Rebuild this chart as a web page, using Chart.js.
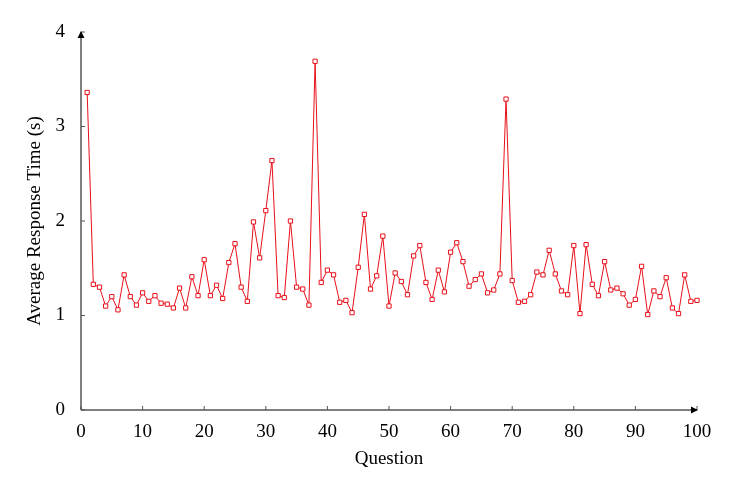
<!DOCTYPE html>
<html>
<head>
<meta charset="utf-8">
<script src="https://cdn.jsdelivr.net/npm/chart.js@4/dist/chart.umd.min.js"></script>
<style>
  body { margin: 0; background: #fff; }
  #wrap { width: 737px; height: 493px; }
</style>
</head>
<body>
<div id="wrap"><canvas id="c" width="737" height="493"></canvas></div>
<script>
// Data
const questions = Array.from({ length: 100 }, (_, i) => i + 1);
const responseTimes = [
  3.36, 1.33, 1.30, 1.10, 1.20, 1.06, 1.43, 1.20, 1.11, 1.24,
  1.15, 1.21, 1.13, 1.12, 1.08, 1.29, 1.08, 1.41, 1.21, 1.59,
  1.21, 1.32, 1.18, 1.56, 1.76, 1.30, 1.15, 1.99, 1.61, 2.11,
  2.64, 1.21, 1.19, 2.00, 1.30, 1.28, 1.11, 3.69, 1.35, 1.48,
  1.43, 1.14, 1.16, 1.03, 1.51, 2.07, 1.28, 1.42, 1.84, 1.10,
  1.45, 1.36, 1.22, 1.63, 1.74, 1.35, 1.17, 1.48, 1.25, 1.67,
  1.77, 1.57, 1.31, 1.38, 1.44, 1.24, 1.27, 1.44, 3.29, 1.37,
  1.14, 1.15, 1.22, 1.46, 1.43, 1.69, 1.44, 1.26, 1.22, 1.74,
  1.02, 1.75, 1.33, 1.21, 1.57, 1.27, 1.29, 1.23, 1.11, 1.17,
  1.52, 1.01, 1.26, 1.20, 1.40, 1.08, 1.02, 1.43, 1.15, 1.16
];
const xTicks = [0, 10, 20, 30, 40, 50, 60, 70, 80, 90, 100];
const yTicks = [0, 1, 2, 3, 4];

const serif = '"Liberation Serif", "DejaVu Serif", serif';

// Axis lines with arrow heads, small inward ticks and the axis titles
const axesPlugin = {
  id: 'axes',
  afterDraw(chart) {
    const { ctx, chartArea: a, scales: { x, y } } = chart;
    ctx.save();
    ctx.strokeStyle = '#000';
    ctx.fillStyle = '#000';
    ctx.lineWidth = 1;
    ctx.beginPath();
    ctx.moveTo(a.left, a.bottom); ctx.lineTo(a.right, a.bottom);
    ctx.moveTo(a.left, a.bottom); ctx.lineTo(a.left, a.top);
    ctx.stroke();
    ctx.strokeStyle = '#555';
    ctx.beginPath();
    xTicks.forEach(v => { const px = x.getPixelForValue(v); ctx.moveTo(px, a.bottom); ctx.lineTo(px, a.bottom - 4); });
    yTicks.forEach(v => { const py = y.getPixelForValue(v); ctx.moveTo(a.left, py); ctx.lineTo(a.left + 4, py); });
    ctx.stroke();
    ctx.beginPath();
    ctx.moveTo(a.right + 1, a.bottom); ctx.lineTo(a.right - 6, a.bottom - 3.5); ctx.lineTo(a.right - 6, a.bottom + 3.5);
    ctx.closePath();
    ctx.moveTo(a.left, a.top - 1); ctx.lineTo(a.left - 3.5, a.top + 6); ctx.lineTo(a.left + 3.5, a.top + 6);
    ctx.closePath();
    ctx.fill();
    ctx.font = '19px ' + serif;
    ctx.textAlign = 'center';
    ctx.textBaseline = 'middle';
    ctx.fillText('Question', (a.left + a.right) / 2, 459);
    ctx.translate(35, (a.top + a.bottom) / 2);
    ctx.rotate(-Math.PI / 2);
    ctx.fillText('Average Response Time (s)', 0, 0);
    ctx.restore();
  }
};

new Chart(document.getElementById('c'), {
  type: 'line',
  data: {
    datasets: [{
      data: questions.map((q, i) => ({ x: q, y: responseTimes[i] })),
      borderColor: '#e8101a',
      borderWidth: 1,
      pointStyle: 'rect',
      pointRadius: 3,
      pointBorderWidth: 1,
      pointBorderColor: '#e8101a',
      pointBackgroundColor: '#fff',
      tension: 0,
      clip: false
    }]
  },
  options: {
    responsive: false,
    animation: false,
    layout: { padding: { top: 32, right: 40, left: 0, bottom: 0 } },
    plugins: { legend: { display: false }, tooltip: { enabled: false } },
    scales: {
      x: {
        type: 'linear', min: 0, max: 100,
        afterBuildTicks: s => { s.ticks = xTicks.map(v => ({ value: v })); },
        afterFit: s => { s.height = 83; },
        grid: { display: false },
        border: { display: false },
        ticks: { color: '#000', font: { family: serif, size: 19 }, padding: 3, maxRotation: 0 }
      },
      y: {
        min: 0, max: 4,
        afterBuildTicks: s => { s.ticks = yTicks.map(v => ({ value: v })); },
        afterFit: s => { s.width = 81; },
        grid: { display: false },
        border: { display: false },
        ticks: { color: '#000', font: { family: serif, size: 19 }, padding: 8 }
      }
    }
  },
  plugins: [axesPlugin]
});
</script>
</body>
</html>
